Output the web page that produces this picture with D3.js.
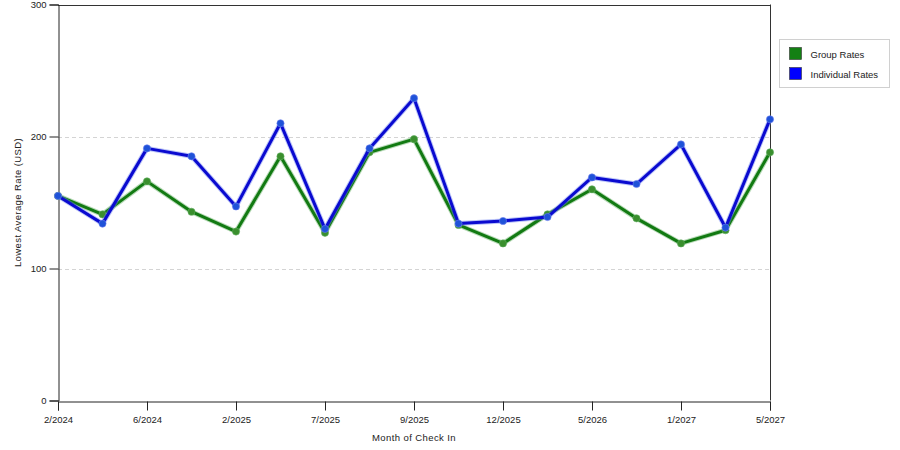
<!DOCTYPE html>
<html>
<head>
<meta charset="utf-8">
<script src="https://cdn.jsdelivr.net/npm/d3@7"></script>
<style>
  body { margin: 0; background: #fff; }
  text { font-family: "Liberation Sans", Arial, sans-serif; fill: #222; }
</style>
</head>
<body>
<div id="chart"></div>
<script>
// months on the x axis (only every other one is labelled)
var months = ["2/2024", "4/2024", "6/2024", "10/2024", "2/2025", "5/2025", "7/2025", "8/2025",
              "9/2025", "11/2025", "12/2025", "2/2026", "5/2026", "9/2026", "1/2027", "3/2027", "5/2027"];
var tickMonths = ["2/2024", "6/2024", "2/2025", "7/2025", "9/2025", "12/2025", "5/2026", "1/2027", "5/2027"];
var groupRates = [155, 141, 166, 143, 128, 185, 127, 188, 198, 133, 119, 141, 160, 138, 119, 129, 188];
var individualRates = [155, 134, 191, 185, 147, 210, 130, 191, 229, 134, 136, 139, 169, 164, 194, 131, 213];
var yTicks = [0, 100, 200, 300];

var svgWidth = 900, svgHeight = 450;
var margin = {top: 4.5, left: 58, right: 130, bottom: 50};
var width = svgWidth - margin.left - margin.right;   // 712
var height = svgHeight - margin.top - margin.bottom;

var svg = d3.select("#chart").append("svg")
  .attr("width", svgWidth)
  .attr("height", svgHeight);

var xScale = d3.scalePoint().domain(months).range([margin.left, margin.left + width]);
var yScale = d3.scaleLinear().domain([0, 300]).range([400.5, margin.top]);

// dashed grid lines
svg.append("g")
  .selectAll("line")
  .data([100, 200])
  .enter()
  .append("line")
  .attr("x1", margin.left).attr("x2", margin.left + width)
  .attr("y1", function(d) { return Math.round(yScale(d)) + 0.5; })
  .attr("y2", function(d) { return Math.round(yScale(d)) + 0.5; })
  .attr("stroke", "#d4d4d4")
  .attr("stroke-dasharray", "4,3");

// frame: top and right
svg.append("line")
  .attr("x1", margin.left).attr("x2", margin.left + width)
  .attr("y1", Math.round(yScale(300)) + 0.5).attr("y2", Math.round(yScale(300)) + 0.5)
  .attr("stroke", "#333");
svg.append("line")
  .attr("x1", margin.left + width + 0.5).attr("x2", margin.left + width + 0.5)
  .attr("y1", yScale(300)).attr("y2", yScale(0))
  .attr("stroke", "#333");

// axes
var yAxis = svg.append("g")
  .attr("transform", "translate(" + (margin.left + 0.5) + ",0)")
  .call(d3.axisLeft(yScale).tickValues(yTicks).tickSize(9).tickPadding(3).tickFormat(d3.format("d")));

var xAxis = svg.append("g")
  .attr("transform", "translate(0," + (Math.round(yScale(0)) + 0.5) + ")")
  .call(d3.axisBottom(xScale).tickValues(tickMonths).tickSize(9).tickPadding(6));

[yAxis, xAxis].forEach(function(ax) {
  ax.select(".domain").attr("stroke", "#222");
  ax.selectAll(".tick line").attr("stroke", "#222");
  ax.selectAll("text").style("font-size", "9.5px").attr("fill", "#222")
    .style("font-family", "'Liberation Sans', Arial, sans-serif");
});

// axis titles
svg.append("text")
  .attr("x", margin.left + width / 2)
  .attr("y", 441)
  .attr("text-anchor", "middle")
  .style("font-size", "9.5px")
  .style("letter-spacing", "0.4px")
  .text("Month of Check In");

svg.append("text")
  .attr("transform", "translate(21," + (yScale(150)) + ") rotate(-90)")
  .attr("text-anchor", "middle")
  .style("font-size", "9.5px")
  .style("letter-spacing", "0.4px")
  .text("Lowest Average Rate (USD)");

// series
var series = [
  {name: "Group Rates", values: groupRates, color: "#127a12", halo: "#5fae5f", dot: "#3a8f2e", swatch: "#138013"},
  {name: "Individual Rates", values: individualRates, color: "#0a0ad0", halo: "#6a7ef0", dot: "#1f52d8", swatch: "#0000ff"}
];

var line = d3.line()
  .x(function(d, i) { return xScale(months[i]); })
  .y(function(d) { return yScale(d); });

series.forEach(function(s) {
  var g = svg.append("g");
  g.append("path")
    .attr("d", line(s.values))
    .attr("fill", "none")
    .attr("stroke", s.halo)
    .attr("stroke-opacity", 0.45)
    .attr("stroke-width", 5)
    .attr("stroke-linejoin", "round");
  g.append("path")
    .attr("d", line(s.values))
    .attr("fill", "none")
    .attr("stroke", s.color)
    .attr("stroke-width", 3)
    .attr("stroke-linejoin", "round");
  g.selectAll("circle")
    .data(s.values)
    .enter()
    .append("circle")
    .attr("cx", function(d, i) { return xScale(months[i]); })
    .attr("cy", function(d) { return yScale(d); })
    .attr("r", 3.6)
    .attr("fill", s.dot)
    .attr("stroke", s.halo)
    .attr("stroke-opacity", 0.6)
    .attr("stroke-width", 1);
});

// legend
var legend = svg.append("g").attr("transform", "translate(779.5,39.5)");
legend.append("rect")
  .attr("width", 110).attr("height", 48)
  .attr("fill", "#fff")
  .attr("stroke", "#d0d0d0");

var items = legend.selectAll(".item")
  .data(series)
  .enter()
  .append("g")
  .attr("transform", function(d, i) { return "translate(10," + (8 + i * 20) + ")"; });

items.append("rect")
  .attr("width", 12).attr("height", 12)
  .attr("fill", function(d) { return d.swatch; })
  .attr("stroke", "#333")
  .attr("stroke-width", 0.6);

items.append("text")
  .attr("x", 21)
  .attr("y", 10)
  .style("font-size", "9.5px")
  .text(function(d) { return d.name; });
</script>
</body>
</html>
